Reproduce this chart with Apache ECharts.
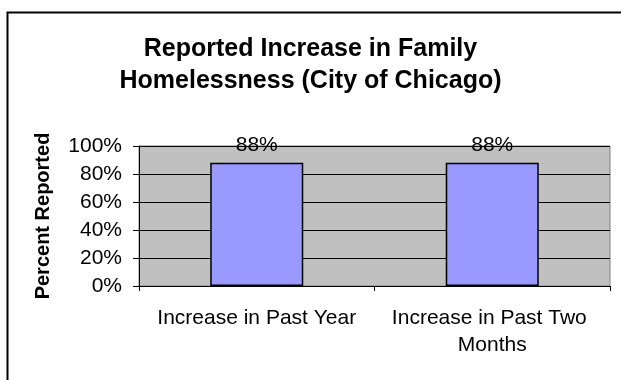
<!DOCTYPE html>
<html>
<head>
<meta charset="utf-8">
<script src="https://cdn.jsdelivr.net/npm/echarts@6/dist/echarts.min.js"></script>
<style>html,body{margin:0;padding:0;background:#fff;}#c{width:621px;height:380px;}</style>
</head>
<body>
<div id="c"></div>
<script>
const titleText = 'Reported Increase in Family\nHomelessness (City of Chicago)';
const yAxisName = 'Percent Reported';
const categories = ['Increase in Past Year', 'Increase in Past Two Months'];
const values = [0.88, 0.88];
const yTicks = [0, 0.2, 0.4, 0.6, 0.8, 1.0];

const FONT = '"Liberation Sans", Arial, sans-serif';
const chart = echarts.init(document.getElementById('c'), null, {renderer: 'canvas'});
chart.setOption({
  animation: false,
  backgroundColor: '#ffffff',
  graphic: [{
    type: 'rect', left: 5, top: 10, z: -1,
    shape: {width: 640, height: 400},
    style: {fill: 'none', stroke: '#000', lineWidth: 2}
  }],
  title: {
    text: titleText, left: 'center', top: 28,
    textStyle: {fontFamily: FONT, fontWeight: 'bold', fontSize: 25, lineHeight: 32, color: '#000'}
  },
  grid: {
    left: 139, right: 11, top: 146, bottom: 94,
    show: true, backgroundColor: '#C0C0C0', borderColor: '#808080', borderWidth: 1
  },
  xAxis: {
    type: 'category', data: categories,
    axisLine: {lineStyle: {color: '#000', width: 1}},
    axisTick: {show: true, alignWithLabel: false, length: 5, lineStyle: {color: '#000'}},
    axisLabel: {
      interval: 0, margin: 19, color: '#000', fontFamily: FONT, fontSize: 21, lineHeight: 27,
      width: 225, overflow: 'break'
    }
  },
  yAxis: {
    type: 'value', min: 0, max: 1, interval: 0.2,
    name: yAxisName, nameLocation: 'middle', nameGap: 86,
    nameTextStyle: {fontFamily: FONT, fontWeight: 'bold', fontSize: 20, color: '#000'},
    axisLine: {show: true, lineStyle: {color: '#000', width: 1}},
    axisTick: {show: true, length: 6, lineStyle: {color: '#000'}},
    splitLine: {show: true, lineStyle: {color: '#000', width: 1}},
    axisLabel: {
      margin: 17, color: '#000', fontFamily: FONT, fontSize: 21,
      formatter: v => yTicks.includes(Math.round(v * 10) / 10) ? Math.round(v * 100) + '%' : ''
    }
  },
  series: [{
    type: 'bar', data: values, barWidth: '39.5%',
    itemStyle: {color: '#9999FF', borderColor: '#000', borderWidth: 1.5},
    label: {
      show: true, position: 'top', distance: 7, color: '#000', fontFamily: FONT, fontSize: 21,
      formatter: p => Math.round(p.value * 100) + '%'
    }
  }]
});
</script>
</body>
</html>
